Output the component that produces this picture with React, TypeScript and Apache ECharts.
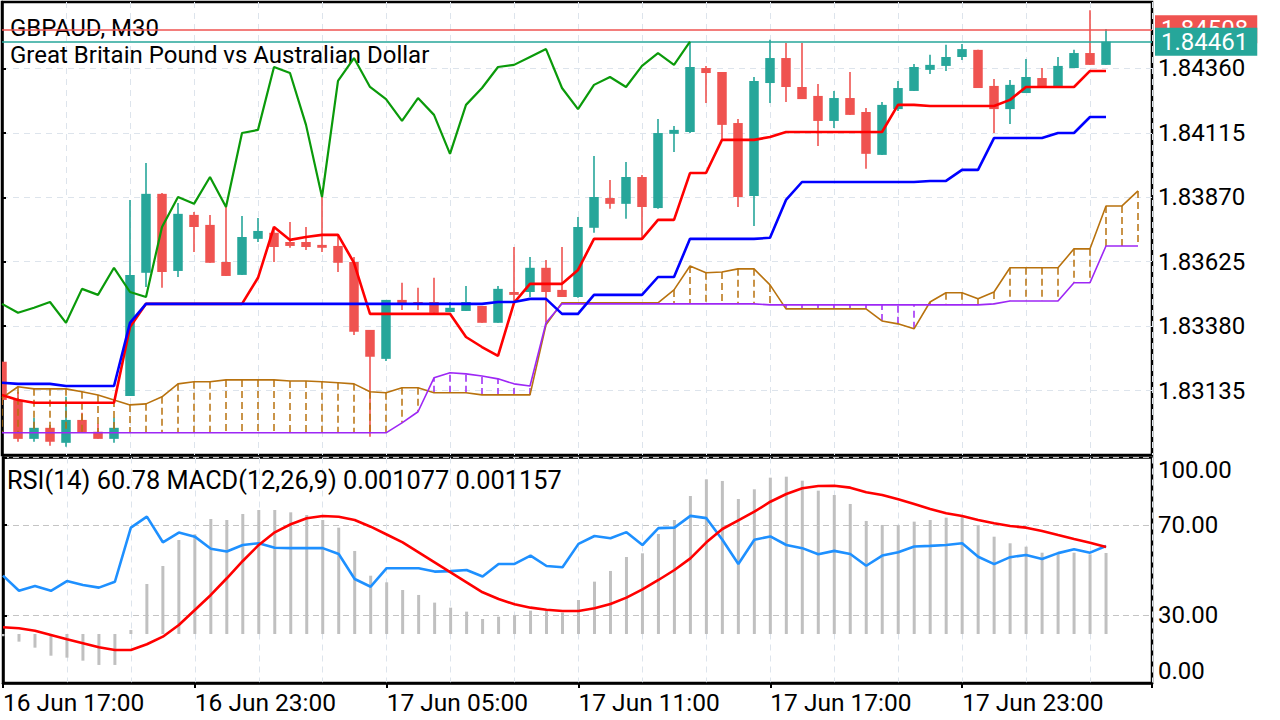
import React, { useEffect, useRef } from "react";
import * as echarts from "echarts";

const symbolTitle = "GBPAUD, M30";
const symbolName = "Great Britain Pound vs Australian Dollar";
const timeLabels = ["16 Jun 17:00", "16 Jun 23:00", "17 Jun 05:00", "17 Jun 11:00", "17 Jun 17:00", "17 Jun 23:00"];
const barsPerLabel = 12;

const opens = [
  1.83245, 1.831, 1.82952, 1.82994, 1.82937, 1.83024, 1.82979, 1.82952, 1.83115, 1.83583,
  1.83883, 1.8359, 1.83803, 1.83765, 1.83624, 1.83575, 1.83712, 1.83735, 1.837, 1.837,
  1.83689, 1.83685, 1.83624, 1.83366, 1.83256, 1.8348, 1.83472, 1.83472, 1.83434, 1.83438,
  1.83457, 1.83393, 1.8351, 1.8351, 1.83602, 1.83518, 1.83491, 1.83754, 1.83867, 1.83845,
  1.83947, 1.83829, 1.84111, 1.84118, 1.84361, 1.84346, 1.84152, 1.83875, 1.84304, 1.84399,
  1.84289, 1.84255, 1.8416, 1.84247, 1.84194, 1.84031, 1.84205, 1.84274, 1.84354, 1.84369,
  1.84403, 1.8443, 1.84293, 1.84205, 1.84266, 1.84323, 1.84289, 1.84361, 1.84418, 1.84373,
];
const highs = [
  1.83245, 1.83131, 1.83032, 1.83005, 1.83112, 1.83051, 1.83009, 1.83032, 1.8386, 1.84,
  1.83886, 1.83848, 1.83814, 1.83803, 1.83841, 1.83799, 1.83791, 1.83757, 1.83776, 1.83757,
  1.83883, 1.83727, 1.83643, 1.83366, 1.8348, 1.83545, 1.83526, 1.83564, 1.83472, 1.83533,
  1.83457, 1.83533, 1.83681, 1.83643, 1.83632, 1.83681, 1.83795, 1.84027, 1.83936, 1.84004,
  1.83955, 1.84167, 1.84141, 1.84456, 1.84369, 1.84346, 1.84167, 1.84327, 1.84468, 1.84456,
  1.84456, 1.843, 1.84274, 1.84346, 1.84209, 1.84232, 1.84312, 1.84376, 1.84411, 1.84449,
  1.84452, 1.8443, 1.84319, 1.84316, 1.84395, 1.84361, 1.84403, 1.8443, 1.84581, 1.84509,
];
const lows = [
  1.83081, 1.82941, 1.82941, 1.82926, 1.82922, 1.82975, 1.82952, 1.82937, 1.83115, 1.83529,
  1.83526, 1.83567, 1.83662, 1.83621, 1.83571, 1.83575, 1.837, 1.83624, 1.83678, 1.8367,
  1.83662, 1.83586, 1.83347, 1.8296, 1.83248, 1.83442, 1.83442, 1.83431, 1.83434, 1.83438,
  1.83393, 1.83393, 1.83469, 1.83491, 1.83396, 1.83491, 1.83488, 1.83735, 1.83826, 1.83788,
  1.83712, 1.83826, 1.84042, 1.84114, 1.84228, 1.84088, 1.83833, 1.83761, 1.84228, 1.84232,
  1.84243, 1.84065, 1.84133, 1.84183, 1.83978, 1.84031, 1.84198, 1.84274, 1.84338, 1.8435,
  1.84392, 1.84285, 1.84114, 1.84148, 1.84266, 1.84289, 1.84289, 1.84361, 1.84373, 1.84373,
];
const closes = [
  1.831, 1.82952, 1.82994, 1.82941, 1.83024, 1.82975, 1.82952, 1.82994, 1.83575, 1.83883,
  1.83586, 1.83807, 1.83757, 1.83621, 1.83571, 1.83719, 1.83742, 1.83681, 1.83685, 1.83681,
  1.83678, 1.83621, 1.83359, 1.83264, 1.8348, 1.83465, 1.83465, 1.83431, 1.8345, 1.83472,
  1.83393, 1.83522, 1.83499, 1.83602, 1.8351, 1.83491, 1.83757, 1.83871, 1.83845, 1.83947,
  1.83833, 1.84114, 1.84126, 1.84365, 1.84342, 1.84145, 1.83871, 1.84312, 1.84399, 1.84289,
  1.84243, 1.8416, 1.84247, 1.84183, 1.84035, 1.84221, 1.84285, 1.84365, 1.84373, 1.84403,
  1.84433, 1.84285, 1.84205, 1.84297, 1.84327, 1.84289, 1.84369, 1.84418, 1.84373, 1.84461,
];

const tenkan = [
  1.83119, 1.831, 1.83089, 1.83089, 1.83089, 1.83089, 1.83089, 1.83089, 1.83377, 1.83465,
  1.83465, 1.83465, 1.83465, 1.83465, 1.83465, 1.83465, 1.83564, 1.83757, 1.83708, 1.83719,
  1.83727, 1.83727, 1.83621, 1.83427, 1.83427, 1.83427, 1.83427, 1.83427, 1.83427, 1.83339,
  1.83301, 1.83267, 1.83469, 1.83541, 1.83541, 1.83541, 1.83594, 1.83712, 1.83712, 1.83712,
  1.83712, 1.83784, 1.83784, 1.83962, 1.83962, 1.84088, 1.84088, 1.84088, 1.84099, 1.84118,
  1.84118, 1.84118, 1.84118, 1.84118, 1.84118, 1.84118, 1.84221, 1.84221, 1.84217, 1.84217,
  1.84217, 1.84217, 1.84217, 1.8424, 1.84289, 1.84289, 1.84289, 1.84289, 1.8435, 1.8435,
];
const kijun = [
  1.83165, 1.83161, 1.83161, 1.83161, 1.83153, 1.83153, 1.83153, 1.83153, 1.83393, 1.83465,
  1.83465, 1.83465, 1.83465, 1.83465, 1.83465, 1.83465, 1.83465, 1.83465, 1.83465, 1.83465,
  1.83465, 1.83465, 1.83465, 1.83465, 1.83465, 1.83465, 1.83465, 1.83465, 1.83465, 1.83465,
  1.83465, 1.83472, 1.83472, 1.83484, 1.83484, 1.83427, 1.83427, 1.83499, 1.83499, 1.83499,
  1.83499, 1.83567, 1.83567, 1.83712, 1.83712, 1.83712, 1.83712, 1.83712, 1.83716, 1.8386,
  1.83928, 1.83928, 1.83928, 1.83928, 1.83928, 1.83928, 1.83928, 1.83928, 1.83932, 1.83932,
  1.83974, 1.83974, 1.84095, 1.84095, 1.84095, 1.84095, 1.84114, 1.84114, 1.84175, 1.84175,
];
const senkouA = [
  1.83108, 1.8315, 1.83142, 1.83142, 1.83142, 1.83131, 1.83119, 1.831, 1.83081, 1.83085,
  1.83112, 1.83161, 1.83169, 1.83169, 1.83176, 1.83176, 1.83176, 1.83176, 1.83172, 1.83172,
  1.83169, 1.83165, 1.83161, 1.83131, 1.83127, 1.83146, 1.83146, 1.83127, 1.83127, 1.83127,
  1.83119, 1.83119, 1.83119, 1.83119, 1.83385, 1.83469, 1.83469, 1.83469, 1.83469, 1.83469,
  1.83469, 1.83469, 1.83518, 1.83609, 1.83583, 1.83586, 1.83598, 1.83598, 1.83537, 1.83446,
  1.83446, 1.83446, 1.83446, 1.83446, 1.83446, 1.834, 1.83389, 1.8337, 1.83472, 1.83507,
  1.83507, 1.83484, 1.8351, 1.83602, 1.83602, 1.83602, 1.83602, 1.83674, 1.83674, 1.83837,
  1.83837, 1.83894,
];
const senkouB = [
  1.82975, 1.82975, 1.82975, 1.82975, 1.82975, 1.82975, 1.82975, 1.82975, 1.82975, 1.82975,
  1.82975, 1.82975, 1.82975, 1.82975, 1.82975, 1.82975, 1.82975, 1.82975, 1.82975, 1.82975,
  1.82975, 1.82975, 1.82975, 1.82975, 1.82975, 1.83013, 1.83055, 1.83184, 1.83203, 1.83199,
  1.83191, 1.8318, 1.83161, 1.83153, 1.83393, 1.83465, 1.83465, 1.83465, 1.83465, 1.83465,
  1.83465, 1.83465, 1.83465, 1.83465, 1.83465, 1.83465, 1.83465, 1.83465, 1.83461, 1.83461,
  1.83461, 1.83461, 1.83461, 1.83461, 1.83461, 1.83461, 1.83461, 1.83461, 1.83461, 1.83461,
  1.83461, 1.83461, 1.83465, 1.83476, 1.83476, 1.83476, 1.83476, 1.83545, 1.83545, 1.83685,
  1.83685, 1.83685,
];
const chikouShift = 26;

const rsi = [
  47.6, 40.9, 43.0, 40.9, 45.2, 43.5, 42.3, 44.9, 68.9, 73.8,
  62.4, 66.7, 64.9, 59.5, 58.3, 61.2, 62.0, 60.0, 59.8, 59.8,
  59.8, 57.2, 46.1, 42.7, 50.9, 50.9, 50.9, 49.4, 49.6, 50.1,
  47.2, 52.8, 52.8, 56.5, 51.9, 51.3, 61.7, 65.2, 64.2, 66.9,
  61.2, 68.7, 68.9, 74.1, 73.1, 63.5, 52.8, 63.5, 65.0, 61.2,
  59.8, 57.1, 58.6, 57.2, 52.0, 56.5, 58.0, 60.5, 60.8, 61.2,
  62.0, 56.0, 52.7, 55.8, 56.8, 55.0, 57.6, 59.3, 57.8, 60.78,
];
const macdMain = [
  -0.00003, -0.000102, -0.000182, -0.000289, -0.000315, -0.000355, -0.000412, -0.000412, 0.000053, 0.000665,
  0.000904, 0.00125, 0.001326, 0.001529, 0.001516, 0.001596, 0.001649, 0.001649, 0.001618, 0.001582,
  0.001516, 0.001414, 0.001104, 0.000775, 0.000687, 0.000585, 0.000519, 0.000417, 0.00035, 0.000297,
  0.000199, 0.00023, 0.000253, 0.00031, 0.000315, 0.000284, 0.000452, 0.000696, 0.000838, 0.001024,
  0.001073, 0.00133, 0.001516, 0.001835, 0.002057, 0.002035, 0.001795, 0.001924, 0.002079, 0.002092,
  0.002039, 0.001906, 0.001848, 0.001729, 0.001503, 0.00145, 0.00145, 0.001494, 0.001516, 0.001547,
  0.00156, 0.00145, 0.001294, 0.001206, 0.001161, 0.001081, 0.00106, 0.001081, 0.00106, 0.001077,
];
const macdSignal = [
  0.000089, 0.000076, 0.000044, -0.000013, -0.000071, -0.000124, -0.000177, -0.000213, -0.000213, -0.000137,
  -0.000036, 0.00012, 0.000319, 0.000519, 0.000741, 0.000971, 0.001184, 0.001352, 0.001459, 0.001539,
  0.001569, 0.00156, 0.001516, 0.001427, 0.001323, 0.001219, 0.001086, 0.000953, 0.00082, 0.000687,
  0.000554, 0.000465, 0.000394, 0.00035, 0.000323, 0.000306, 0.000306, 0.000341, 0.000399, 0.000483,
  0.000594, 0.000718, 0.000851, 0.001006, 0.001219, 0.001396, 0.001512, 0.001626, 0.001759, 0.001862,
  0.001937, 0.001968, 0.001972, 0.001946, 0.001884, 0.001848, 0.001791, 0.001729, 0.001662, 0.001605,
  0.001569, 0.001516, 0.001472, 0.001436, 0.001414, 0.00137, 0.001316, 0.001263, 0.001214, 0.001157,
];

const priceTicks = [1.83135, 1.8338, 1.83625, 1.8387, 1.84115, 1.8436];
const rsiTicks = [0, 30, 70, 100];
const bidPrice = 1.84461;
const askPrice = 1.84508;

const FONT = "Roboto";
const GREEN = "#26a69a";
const RED = "#ef5350";
const BROWN = "#b8720e";
const PURPLE = "#9d27f5";
const GRID = "#dde4ec";

export default function App() {
  const ref = useRef<HTMLDivElement>(null);
  useEffect(() => {
    const chart = echarts.init(ref.current!, null, { renderer: "svg" });
    const idx = (arr: number[]) => arr.map((v, i) => [i, v]);
    const candleData = opens.map((o, i) => [i, o, closes[i], lows[i], highs[i]]);
    const chikou = closes.slice(chikouShift).map((c, j) => [j, c]);
    const cloud = senkouA.map((a, i) => [i, a, senkouB[i]]);
    const lastRsi = rsi[rsi.length - 1];
    const lastMain = macdMain[macdMain.length - 1];
    const lastSignal = macdSignal[macdSignal.length - 1];
    const xMax = 71.875;
    const txt = { fontFamily: FONT, fontSize: 24, color: "#000", fontWeight: "normal" as const };
    const priceLabel = (bg: string) => ({
      show: true, position: "end", distance: 3, backgroundColor: bg, color: "#fff",
      fontFamily: FONT, fontSize: 24, lineHeight: 24, padding: [2, 9, 2, 6],
      formatter: (p: any) => Number(p.value).toFixed(5),
    });

    const option: any = {
      animation: false,
      backgroundColor: "#fff",
      title: [
        { text: symbolTitle, left: 10, top: 15, padding: 0, z: 1, textStyle: { ...txt, lineHeight: 26 } },
        { text: symbolName, left: 10, top: 42, padding: 0, z: 1, textStyle: { ...txt, lineHeight: 26 } },
        {
          text: `RSI(14) ${lastRsi.toFixed(2)} MACD(12,26,9) ${lastMain.toFixed(6)} ${lastSignal.toFixed(6)}`,
          left: 7, top: 467, padding: 0, z: 1, textStyle: { ...txt, fontSize: 25.3, lineHeight: 26 },
        },
      ],
      grid: [
        { left: 2, top: 2, width: 1150, height: 453, show: true, borderColor: "#000", borderWidth: 2.5 },
        { left: 2, top: 457.5, width: 1150, height: 225.5, show: true, borderColor: "#000", borderWidth: 2.5 },
      ],
      xAxis: [
        {
          gridIndex: 0, type: "value", min: 0, max: xMax, interval: 4,
          axisLine: { show: false }, axisTick: { show: false }, axisLabel: { show: false },
          splitLine: { show: true, lineStyle: { color: GRID, type: [6, 5], width: 1 } },
        },
        {
          gridIndex: 1, type: "value", min: 0, max: xMax, interval: 4,
          axisLine: { show: false }, axisTick: { show: false }, axisLabel: { show: false },
          splitLine: { show: true, lineStyle: { color: GRID, type: [6, 5], width: 1 } },
        },
        {
          gridIndex: 1, type: "value", position: "bottom", min: 0, max: xMax, interval: barsPerLabel,
          axisLine: { show: true, onZero: false, lineStyle: { color: "#000", width: 2.5 } },
          axisTick: { show: true, length: 5, lineStyle: { color: "#000", width: 2 } },
          axisLabel: {
            ...txt, fontSize: 24.5, align: "left", margin: 7,
            formatter: (v: number) => (v % barsPerLabel === 0 ? timeLabels[v / barsPerLabel] ?? "" : ""),
          },
          splitLine: { show: false },
        },
      ],
      yAxis: [
        {
          gridIndex: 0, type: "value", position: "right", min: 1.828907, max: 1.846119,
          axisLine: { show: true, lineStyle: { color: "#000", width: 2.5 } },
          axisTick: { show: true, length: 4, customValues: priceTicks, lineStyle: { color: "#000", width: 2 } },
          axisLabel: { ...txt, margin: 6, customValues: priceTicks, formatter: (v: number) => v.toFixed(5) },
          splitLine: { show: true, lineStyle: { color: GRID, type: [6, 5], width: 1 } },
        },
        {
          gridIndex: 1, type: "value", position: "right", min: 0, max: 100,
          axisLine: { show: true, lineStyle: { color: "#000", width: 2.5 } },
          axisTick: { show: true, length: 4, customValues: rsiTicks, lineStyle: { color: "#000", width: 2 } },
          axisLabel: {
            ...txt, margin: 6, customValues: rsiTicks, formatter: (v: number) => v.toFixed(2),
            verticalAlignMinLabel: "bottom", verticalAlignMaxLabel: "top",
          },
          splitLine: { show: true, lineStyle: { color: "#c4c4c4", type: [6, 4], width: 1 } },
        },
        { gridIndex: 1, type: "value", position: "left", min: -0.000652, max: 0.002347, show: false },
      ],
      series: [
        {
          type: "custom", name: "candles", xAxisIndex: 0, yAxisIndex: 0, z: 2, clip: true,
          data: candleData, encode: { x: 0, y: [1, 2, 3, 4] },
          renderItem: (_p: any, api: any) => {
            const x = api.value(0);
            const o = api.value(1), c = api.value(2), l = api.value(3), h = api.value(4);
            const pO = api.coord([x, o]), pC = api.coord([x, c]);
            const pL = api.coord([x, l]), pH = api.coord([x, h]);
            const color = c >= o ? GREEN : RED;
            const top = Math.min(pO[1], pC[1]);
            const bot = Math.max(pO[1], pC[1]);
            const half = 4.75;
            return {
              type: "group",
              children: [
                { type: "line", shape: { x1: pH[0], y1: pH[1], x2: pL[0], y2: pL[1] }, style: { stroke: color, lineWidth: 1.6 } },
                { type: "rect", shape: { x: pO[0] - half, y: top, width: half * 2, height: Math.max(bot - top, 1.6) }, style: { fill: color } },
              ],
            };
          },
        },
        {
          type: "custom", name: "cloud", xAxisIndex: 0, yAxisIndex: 0, z: 3, clip: true,
          data: cloud, encode: { x: 0, y: [1, 2] },
          renderItem: (_p: any, api: any) => {
            const x = api.value(0), a = api.value(1), b = api.value(2);
            const pa = api.coord([x, a]), pb = api.coord([x, b]);
            return {
              type: "line",
              shape: { x1: pa[0], y1: pa[1], x2: pb[0], y2: pb[1] },
              style: { stroke: a >= b ? BROWN : PURPLE, lineWidth: 1.5, lineDash: [7, 4] },
            };
          },
        },
        { type: "line", name: "Senkou A", xAxisIndex: 0, yAxisIndex: 0, z: 4, data: idx(senkouA), symbol: "none", lineStyle: { color: BROWN, width: 1.6 } },
        { type: "line", name: "Senkou B", xAxisIndex: 0, yAxisIndex: 0, z: 4, data: idx(senkouB), symbol: "none", lineStyle: { color: PURPLE, width: 1.6 } },
        {
          type: "line", name: "Tenkan", xAxisIndex: 0, yAxisIndex: 0, z: 5, data: idx(tenkan), symbol: "none",
          lineStyle: { color: "#ff0000", width: 2.6 },
          markLine: {
            silent: true, symbol: ["none", "none"], precision: 5,
            data: [
              { yAxis: askPrice, lineStyle: { color: RED, width: 1.5, type: "solid" }, label: priceLabel(RED) },
              { yAxis: bidPrice, lineStyle: { color: GREEN, width: 1.5, type: "solid" }, label: priceLabel(GREEN) },
            ],
          },
        },
        { type: "line", name: "Kijun", xAxisIndex: 0, yAxisIndex: 0, z: 5, data: idx(kijun), symbol: "none", lineStyle: { color: "#0000ff", width: 2.6 } },
        { type: "line", name: "Chikou", xAxisIndex: 0, yAxisIndex: 0, z: 5, data: chikou, symbol: "none", lineStyle: { color: "#0a9a0a", width: 2.2 } },
        {
          type: "bar", name: "MACD", xAxisIndex: 2, yAxisIndex: 2, z: 2, barWidth: 3,
          data: idx(macdMain), itemStyle: { color: "#c0c0c0" },
        },
        { type: "line", name: "RSI", xAxisIndex: 2, yAxisIndex: 1, z: 4, data: idx(rsi), symbol: "none", lineStyle: { color: "#1e90ff", width: 2.6 } },
        { type: "line", name: "Signal", xAxisIndex: 2, yAxisIndex: 2, z: 5, data: idx(macdSignal), symbol: "none", lineStyle: { color: "#ff0000", width: 2.6 } },
      ],
    };
    chart.setOption(option);
    return () => chart.dispose();
  }, []);
  return (
    <div
      ref={ref}
      style={{ position: "fixed", left: 0, top: 0, width: 1280, height: 720, background: "#fff" }}
    />
  );
}
